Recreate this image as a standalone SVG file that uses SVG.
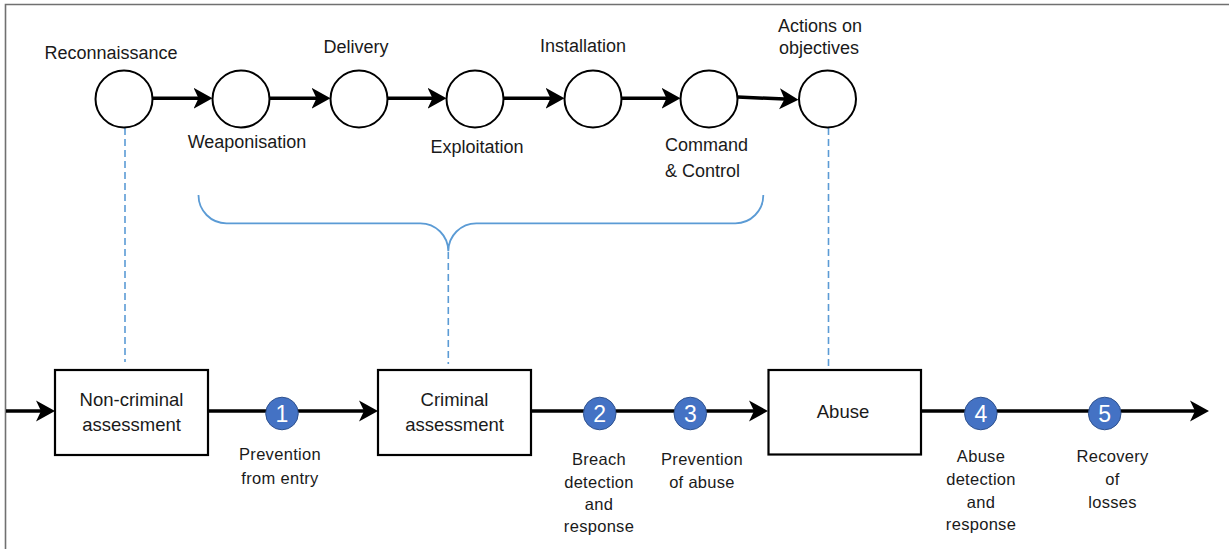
<svg xmlns="http://www.w3.org/2000/svg" width="1229" height="549" viewBox="0 0 1229 549">
<style>
  text { font-family: "Liberation Sans", Arial, sans-serif; fill: #1a1a1a; }
  .top { font-size: 18px; text-anchor: middle; }
  .box-t { font-size: 18.5px; text-anchor: middle; }
  .lbl { font-size: 16.5px; text-anchor: middle; letter-spacing: 0.3px; }
  .num { font-size: 23px; text-anchor: middle; fill: #ffffff; }
  .stage { fill: #ffffff; stroke: #000000; stroke-width: 2; }
  .box { fill: #ffffff; stroke: #000000; stroke-width: 2.2; }
  .badge { fill: #4472C4; stroke: #2F528F; stroke-width: 1; }
  .flow { fill: none; stroke: #000000; stroke-width: 3.5; marker-end: url(#ah); }
  .plain { fill: none; stroke: #000000; stroke-width: 3.5; }
  .dash { fill: none; stroke: #5B9BD5; stroke-width: 1.6; stroke-dasharray: 7 4; }
  .brace { fill: none; stroke: #5B9BD5; stroke-width: 1.8; }
</style>
<defs>
  <marker id="ah" markerUnits="userSpaceOnUse" viewBox="0 -11 20 22" markerWidth="20" markerHeight="22" refX="11" refY="0" orient="auto">
    <path d="M0,-10.5 L19,0 L0,10.5 L5,0 Z" fill="#000000"/>
  </marker>
</defs>
<rect width="1229" height="549" fill="#ffffff"/>
<!-- frame -->
<path d="M5.5,549 L5.5,4.5 L1229,4.5" fill="none" stroke="#707070" stroke-width="1.6"/>

<g id="connectors">
  <!-- kill chain arrows -->
  <line class="flow" x1="152.5" y1="98.3" x2="204.5" y2="98.3"/>
  <line class="flow" x1="269.5" y1="98.3" x2="322.5" y2="98.3"/>
  <line class="flow" x1="387.5" y1="98.3" x2="438.5" y2="98.3"/>
  <line class="flow" x1="503.5" y1="98.3" x2="556.5" y2="98.3"/>
  <line class="flow" x1="621.5" y1="98.3" x2="672.5" y2="98.3"/>
  <line class="flow" x1="737.5" y1="97" x2="790.5" y2="99.3"/>
  <!-- bottom flow -->
  <line class="flow" x1="6" y1="411" x2="47" y2="411"/>
  <line class="flow" x1="208" y1="411" x2="370" y2="411"/>
  <line class="flow" x1="531" y1="411" x2="760" y2="411"/>
  <line class="flow" x1="921" y1="411" x2="1201" y2="411"/>
  <!-- dashed links -->
  <line class="dash" x1="125" y1="128" x2="125" y2="362"/>
  <line class="dash" x1="448.3" y1="252" x2="448.3" y2="364"/>
  <line class="dash" x1="828.5" y1="128" x2="828.5" y2="368"/>
  <!-- brace -->
  <path class="brace" d="M198.5,195 A28,28 0 0 0 226.5,223.3 L420.3,223.3 A28,28 0 0 1 448.3,251.3 A28,28 0 0 1 476.3,223.3 L735.3,223.3 A28,28 0 0 0 763.3,195"/>
</g>

<g id="reconnaissance">
  <circle class="stage" cx="124" cy="99" r="28.5"/>
  <text class="top" x="111" y="59">Reconnaissance</text>
</g>
<g id="weaponisation">
  <circle class="stage" cx="241" cy="99" r="28.5"/>
  <text class="top" x="247" y="147.5">Weaponisation</text>
</g>
<g id="delivery">
  <circle class="stage" cx="359" cy="99" r="28.5"/>
  <text class="top" x="356" y="52.5">Delivery</text>
</g>
<g id="exploitation">
  <circle class="stage" cx="475" cy="99" r="28.5"/>
  <text class="top" x="477" y="152.5">Exploitation</text>
</g>
<g id="installation">
  <circle class="stage" cx="593" cy="99" r="28.5"/>
  <text class="top" x="583" y="51.5">Installation</text>
</g>
<g id="command-control">
  <circle class="stage" cx="709" cy="99" r="28.5"/>
  <text class="top" x="665" y="150.5" style="text-anchor:start">Command</text>
  <text class="top" x="665" y="176.5" style="text-anchor:start">&amp; Control</text>
</g>
<g id="actions-on-objectives">
  <circle class="stage" cx="827.5" cy="99" r="28.5"/>
  <text class="top" x="820" y="31.5">Actions on</text>
  <text class="top" x="819" y="53.5">objectives</text>
</g>

<g id="non-criminal-assessment">
  <rect class="box" x="55" y="370" width="153" height="85"/>
  <text class="box-t" x="131.5" y="405.5">Non-criminal</text>
  <text class="box-t" x="131.5" y="430.5">assessment</text>
</g>
<g id="criminal-assessment">
  <rect class="box" x="378" y="370" width="153" height="85"/>
  <text class="box-t" x="454.5" y="405.5">Criminal</text>
  <text class="box-t" x="454.5" y="430.5">assessment</text>
</g>
<g id="abuse">
  <rect class="box" x="768.5" y="370" width="152.5" height="84.5"/>
  <text class="box-t" x="843" y="417.5">Abuse</text>
</g>

<g id="step1">
  <circle class="badge" cx="282" cy="413.5" r="16.3"/>
  <text class="num" x="282" y="421.5">1</text>
  <text class="lbl" x="280" y="460">Prevention</text>
  <text class="lbl" x="280" y="483.5">from entry</text>
</g>
<g id="step2">
  <circle class="badge" cx="599.7" cy="413.5" r="16.3"/>
  <text class="num" x="599.7" y="421.5">2</text>
  <text class="lbl" x="599" y="465">Breach</text>
  <text class="lbl" x="599" y="487.5">detection</text>
  <text class="lbl" x="599" y="510">and</text>
  <text class="lbl" x="599" y="532">response</text>
</g>
<g id="step3">
  <circle class="badge" cx="690.3" cy="413.5" r="16.3"/>
  <text class="num" x="690.3" y="421.5">3</text>
  <text class="lbl" x="702" y="465">Prevention</text>
  <text class="lbl" x="702" y="487.5">of abuse</text>
</g>
<g id="step4">
  <circle class="badge" cx="980.8" cy="413.5" r="16.3"/>
  <text class="num" x="980.8" y="421.5">4</text>
  <text class="lbl" x="981" y="461.5">Abuse</text>
  <text class="lbl" x="981" y="484.5">detection</text>
  <text class="lbl" x="981" y="507.5">and</text>
  <text class="lbl" x="981" y="530">response</text>
</g>
<g id="step5">
  <circle class="badge" cx="1104.7" cy="413.5" r="16.3"/>
  <text class="num" x="1104.7" y="421.5">5</text>
  <text class="lbl" x="1112.5" y="461.5">Recovery</text>
  <text class="lbl" x="1112.5" y="484.5">of</text>
  <text class="lbl" x="1112.5" y="507.5">losses</text>
</g>
</svg>
